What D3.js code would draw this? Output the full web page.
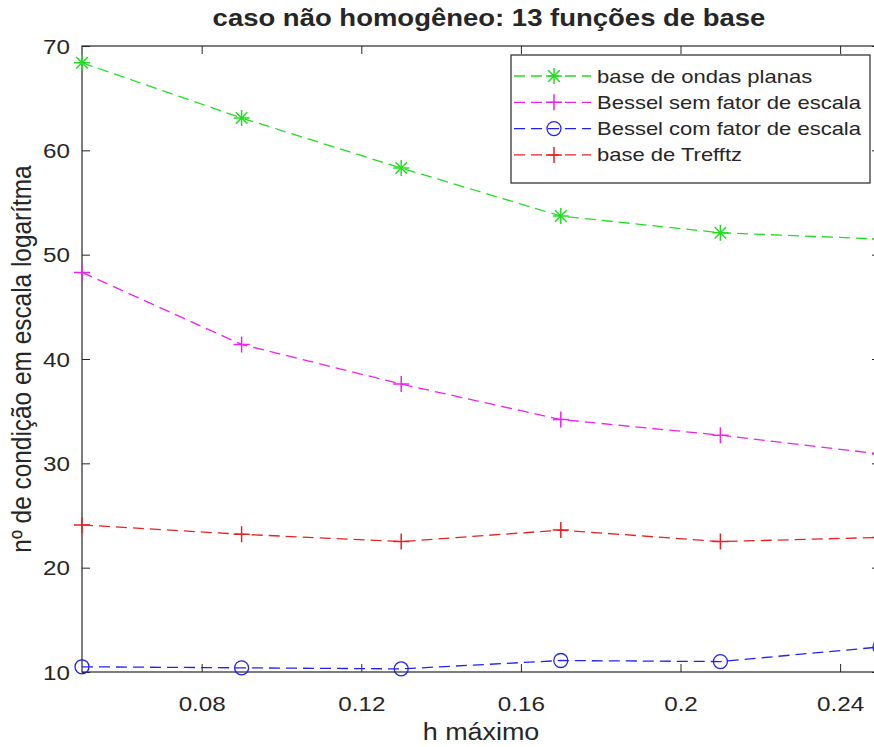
<!DOCTYPE html>
<meta charset="utf-8">
<script src="https://d3js.org/d3.v7.min.js"></script>
<style>
  body { margin: 0; background: #fff; }
  text { font-family: "Liberation Sans", Arial, Helvetica, sans-serif; fill: #262626; }
</style>
<div id="my_dataviz"></div>
<script>

  // data
  var hMax = [0.05, 0.09, 0.13, 0.17, 0.21, 0.25];
  var ondasPlanas = [68.4, 63.1, 58.3, 53.7, 52.1, 51.5];
  var besselSem = [48.3, 41.4, 37.6, 34.2, 32.7, 30.9];
  var besselCom = [10.5, 10.4, 10.3, 11.1, 11.0, 12.4];
  var trefftz = [24.1, 23.2, 22.5, 23.6, 22.5, 22.9];

  var xTicks = [0.08, 0.12, 0.16, 0.2, 0.24];
  var yTicks = [10, 20, 30, 40, 50, 60, 70];

  var series = [
    { name: "base de ondas planas", values: ondasPlanas, color: "#22dd22", marker: "star" },
    { name: "Bessel sem fator de escala", values: besselSem, color: "#ee22ee", marker: "plus" },
    { name: "Bessel com fator de escala", values: besselCom, color: "#2222ee", marker: "circle" },
    { name: "base de Trefftz", values: trefftz, color: "#e62222", marker: "plus" }
  ];

  // the picture is a bit wider than tall, text gets stretched the same way
  var sx = 1.17;

  var margin = { top: 46, right: -6, bottom: 75, left: 82 },
    width = 874 - margin.left - margin.right,
    height = 747 - margin.top - margin.bottom;

  var svg = d3.select("#my_dataviz")
    .append("svg")
    .attr("width", 874)
    .attr("height", 747)
    .append("g")
    .attr("transform", "translate(" + margin.left + "," + margin.top + ")");

  var x = d3.scaleLinear().domain([0.05, 0.25]).range([0, width]);
  var y = d3.scaleLinear().domain([10, 70]).range([height, 0]);

  // axes, ticks pointing inwards like matlab
  var xAxis = svg.append("g")
    .attr("transform", "translate(0," + height + ")")
    .call(d3.axisBottom(x).tickValues(xTicks).tickFormat(d3.format("")).tickSizeInner(-8).tickSizeOuter(0).tickPadding(24));
  var xTop = svg.append("g")
    .call(d3.axisTop(x).tickValues(xTicks).tickFormat("").tickSizeInner(-8).tickSizeOuter(0));
  var yAxis = svg.append("g")
    .call(d3.axisLeft(y).tickValues(yTicks).tickSizeInner(-8).tickSizeOuter(0).tickPadding(10.3));
  var yRight = svg.append("g")
    .attr("transform", "translate(" + width + ",0)")
    .call(d3.axisRight(y).tickValues(yTicks).tickFormat("").tickSizeInner(-8).tickSizeOuter(0));

  svg.selectAll(".domain").remove();
  svg.selectAll(".tick line").attr("stroke", "#262626");
  xAxis.selectAll("text").attr("dy", 0).attr("y", 39).attr("transform", "scale(" + sx + ",1)");
  yAxis.selectAll("text").attr("dy", "0.35em").attr("transform", "scale(" + sx + ",1)");
  svg.selectAll(".tick text").style("font-size", "20.7px").attr("fill", "#262626")
    .style("font-family", "'Liberation Sans', Arial, sans-serif");

  // box
  svg.append("rect")
    .attr("x", 0).attr("y", 0)
    .attr("width", width).attr("height", height)
    .attr("fill", "none")
    .attr("stroke", "#262626")
    .attr("stroke-width", 1.2);

  function drawMarker(g, kind, color) {
    if (kind === "circle") {
      g.append("circle").attr("r", 7).attr("fill", "none").attr("stroke", color).attr("stroke-width", 1.3);
    } else {
      var s = 8;
      g.append("path").attr("d", "M" + (-s) + ",0H" + s + "M0," + (-s) + "V" + s)
        .attr("stroke", color).attr("stroke-width", 1.5);
      if (kind === "star") {
        var t = s * 0.72;
        g.append("path").attr("d", "M" + (-t) + "," + (-t) + "L" + t + "," + t + "M" + (-t) + "," + t + "L" + t + "," + (-t))
          .attr("stroke", color).attr("stroke-width", 1.5);
      }
    }
  }

  var line = d3.line()
    .x(function (d) { return x(d[0]); })
    .y(function (d) { return y(d[1]); });

  series.forEach(function (s) {
    var pts = hMax.map(function (h, i) { return [h, s.values[i]]; });
    svg.append("path")
      .datum(pts)
      .attr("d", line)
      .attr("fill", "none")
      .attr("stroke", s.color)
      .attr("stroke-width", 1.3)
      .attr("stroke-dasharray", "11,6");
    pts.forEach(function (p) {
      var g = svg.append("g").attr("transform", "translate(" + x(p[0]) + "," + y(p[1]) + ")");
      drawMarker(g, s.marker, s.color);
    });
  });

  // legend
  var leg = svg.append("g").attr("transform", "translate(" + (511 - margin.left) + "," + (55 - margin.top) + ")");
  leg.append("rect")
    .attr("width", 359).attr("height", 128)
    .attr("fill", "#fff")
    .attr("stroke", "#262626")
    .attr("stroke-width", 1.2);
  series.forEach(function (s, i) {
    var ry = 21 + i * 26.3;
    leg.append("line")
      .attr("x1", 3).attr("x2", 80).attr("y1", ry).attr("y2", ry)
      .attr("stroke", s.color).attr("stroke-width", 1.3)
      .attr("stroke-dasharray", "11,6");
    drawMarker(leg.append("g").attr("transform", "translate(43," + ry + ")"), s.marker, s.color);
    leg.append("g")
      .attr("transform", "translate(86," + ry + ") scale(" + sx + ",1)")
      .append("text")
      .attr("dy", "0.35em")
      .style("font-size", "18.8px")
      .text(s.name);
  });

  // title and axis labels
  svg.append("g")
    .attr("transform", "translate(" + (width / 2 + 8) + "," + (26 - margin.top) + ") scale(" + sx + ",1)")
    .append("text")
    .attr("text-anchor", "middle")
    .style("font-size", "23.5px")
    .style("font-weight", "bold")
    .attr("fill", "#000")
    .text("caso não homogêneo: 13 funções de base");

  svg.append("g")
    .attr("transform", "translate(" + (width / 2) + "," + (740 - margin.top) + ") scale(" + sx + ",1)")
    .append("text")
    .attr("text-anchor", "middle")
    .style("font-size", "23px")
    .text("h máximo");

  svg.append("g")
    .attr("transform", "translate(" + (31 - margin.left) + "," + (height / 2) + ") rotate(-90) scale(1.03," + sx + ")")
    .append("text")
    .attr("text-anchor", "middle")
    .style("font-size", "23.7px")
    .text("nº de condição em escala logarítma");

</script>
